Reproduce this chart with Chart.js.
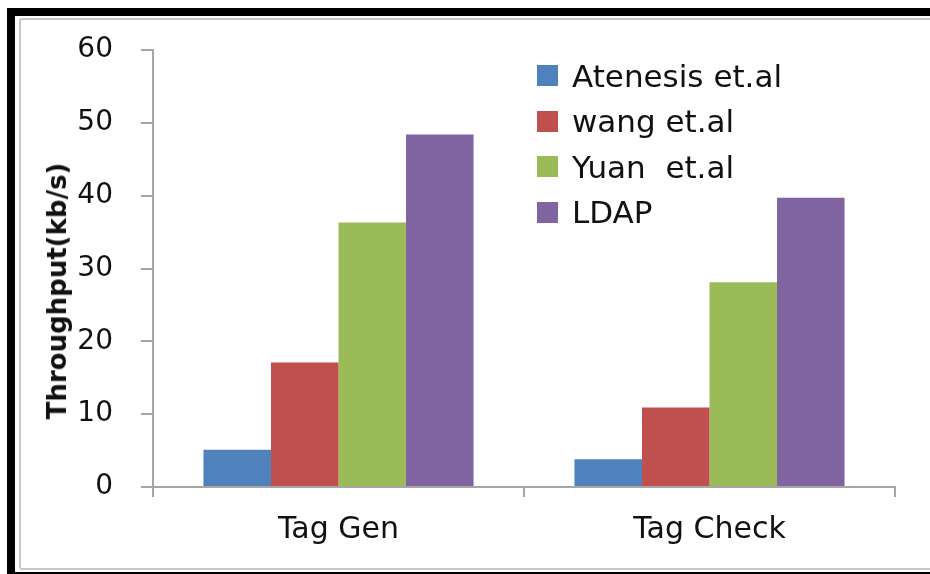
<!DOCTYPE html>
<html>
<head>
<meta charset="utf-8">
<script src="https://cdn.jsdelivr.net/npm/chart.js@4"></script>
<style>
  html, body { margin:0; padding:0; background:#fff; width:930px; height:574px; overflow:hidden; }
  .frame-black { position:absolute; left:7px; top:8px; width:930px; height:556px; border-top:8px solid #000; border-left:8px solid #000; border-bottom:2px solid #000; }
  .frame-grey { position:absolute; left:19px; top:18px; width:920px; height:548px; border:2px solid #c8c8c8; border-radius:3px; }
  #chart { position:absolute; left:0; top:0; }
  #ytitle { position:absolute; left:57px; top:291px; transform:translate(-50%,-50%) rotate(-90deg); font:bold 26px "DejaVu Sans", sans-serif; color:#111; white-space:nowrap; }
  #legend { position:absolute; left:537px; top:53px; font:31px "DejaVu Sans", sans-serif; color:#111; }
  #legend .row { height:45.5px; display:flex; align-items:center; white-space:pre; }
  #legend .box { width:21px; height:21px; margin-right:14px; }
</style>
</head>
<body>
<div class="frame-black"></div>
<div class="frame-grey"></div>
<canvas id="chart" width="930" height="574"></canvas>
<div id="ytitle">Throughput(kb/s)</div>
<div id="legend"></div>
<script>
const categories = ['Tag Gen', 'Tag Check'];
const seriesNames = ['Atenesis et.al', 'wang et.al', 'Yuan  et.al', 'LDAP'];
const seriesColors = ['#4f81bd', '#c0504d', '#9bbb59', '#8064a2'];
const atenesis = [5.1, 3.8];
const wang = [17.1, 10.9];
const yuan = [36.3, 28.1];
const ldap = [48.4, 39.7];
const yMin = 0, yMax = 60, yStep = 10;

const axisGrey = '#a6a6a6';
const values = [atenesis, wang, yuan, ldap];

function initChart(){
  const datasets = seriesNames.map((name, i) => ({
    label: name, data: values[i], backgroundColor: seriesColors[i], borderWidth: 0,
    categoryPercentage: 0.728, barPercentage: 1
  }));
  new Chart(document.getElementById('chart').getContext('2d'), {
    type: 'bar',
    data: { labels: categories, datasets },
    options: {
      responsive: false, animation: false,
      layout: { padding: { top: 50, right: 35, bottom: 0, left: 0 } },
      plugins: { legend: { display: false }, tooltip: { enabled: false } },
      scales: {
        x: {
          grid: { drawOnChartArea: false, tickLength: 10, color: axisGrey, lineWidth: 2, offset: true },
          border: { color: axisGrey, width: 2 },
          ticks: { font: { family: '"DejaVu Sans", sans-serif', size: 30 }, color: '#111', padding: 15 },
          afterFit(s){ s.height = 87; }
        },
        y: {
          min: yMin, max: yMax,
          grid: { drawOnChartArea: false, tickLength: 12, color: axisGrey, lineWidth: 2 },
          border: { color: axisGrey, width: 2 },
          ticks: { stepSize: yStep, font: { family: '"DejaVu Sans", sans-serif', size: 28 }, color: '#111', padding: 28 },
          afterFit(s){ s.width = 153; }
        }
      }
    }
  });
  const legend = document.getElementById('legend');
  seriesNames.forEach((name, i) => {
    const row = document.createElement('div');
    row.className = 'row';
    row.innerHTML = '<span class="box" style="background:' + seriesColors[i] + '"></span><span></span>';
    row.lastChild.textContent = name;
    legend.appendChild(row);
  });
}
document.addEventListener('DOMContentLoaded', initChart);
</script>
</body>
</html>
